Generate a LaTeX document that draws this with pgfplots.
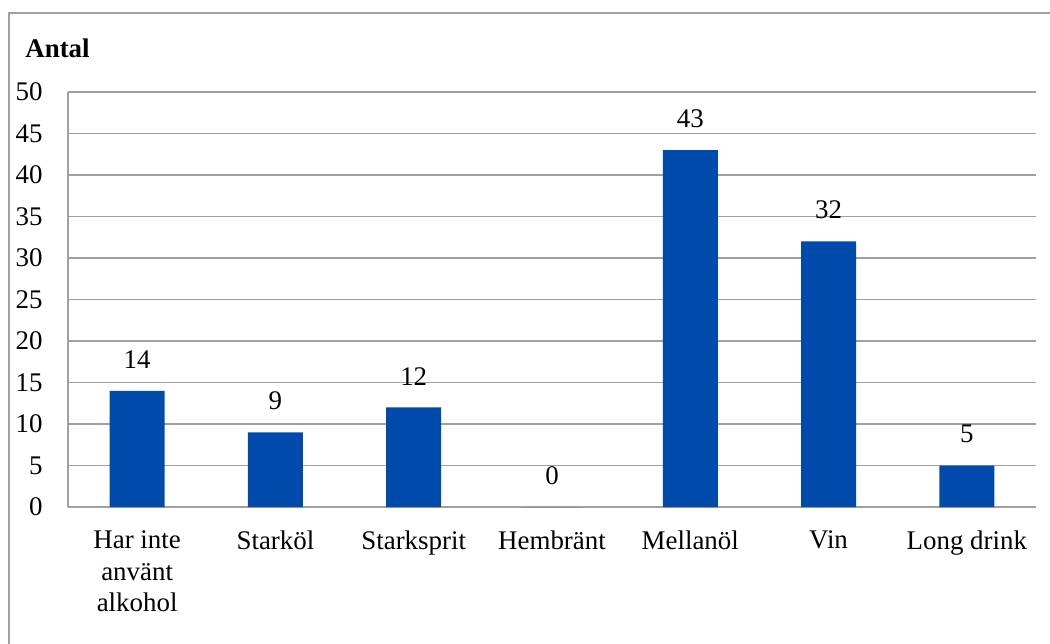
\documentclass[border=0pt]{standalone}
\usepackage{pgfplots}
\pgfplotsset{compat=1.18}
\usepackage{fontspec}
\setmainfont{Liberation Serif}
\definecolor{barblue}{RGB}{0,74,172}
\definecolor{gridgray}{RGB}{160,160,160}
\begin{document}
\begin{tikzpicture}
\path[use as bounding box] (0,0) rectangle (525bp,322bp);
\draw[gridgray, line width=0.8bp] (4.5bp,-2bp) -- (4.5bp,315.5bp) -- (530bp,315.5bp);
\node[anchor=west, font=\fontsize{13.5}{16}\selectfont\bfseries, inner sep=0] at (12.5bp,298bp) {Antal};
\begin{axis}[
  at={(34bp,68.5bp)}, anchor=south west,
  scale only axis, width=484bp, height=207.5bp,
  ymin=0, ymax=50, ytick={0,5,...,50},
  xmin=-0.5, xmax=6.5,
  xtick=data,
  xticklabels={{Har inte\\använt\\alkohol},Starköl,Starksprit,Hembränt,Mellanöl,Vin,Long drink},
  axis x line=bottom, axis y line=left,
  axis line style={gridgray, line width=0.8bp, -},
  major tick length=0,
  ymajorgrids, grid style={gridgray, line width=0.8bp},
  tick label style={font=\fontsize{13.5}{16}\selectfont},
  /pgf/number format/assume math mode=true,
  yticklabel style={anchor=east, inner sep=0, xshift=-12.5bp},
  xticklabel style={anchor=north, inner sep=0, yshift=-11.5bp, align=center},
  ybar, bar width=27.5bp,
  nodes near coords,
  every node near coord/.append style={font=\fontsize{13.5}{16}\selectfont, inner sep=0, yshift=11bp, black},
  clip=false,
]
\addplot[fill=barblue, draw=none] coordinates {(0,14) (1,9) (2,12) (3,0) (4,43) (5,32) (6,5)};
\end{axis}
\end{tikzpicture}
\end{document}
